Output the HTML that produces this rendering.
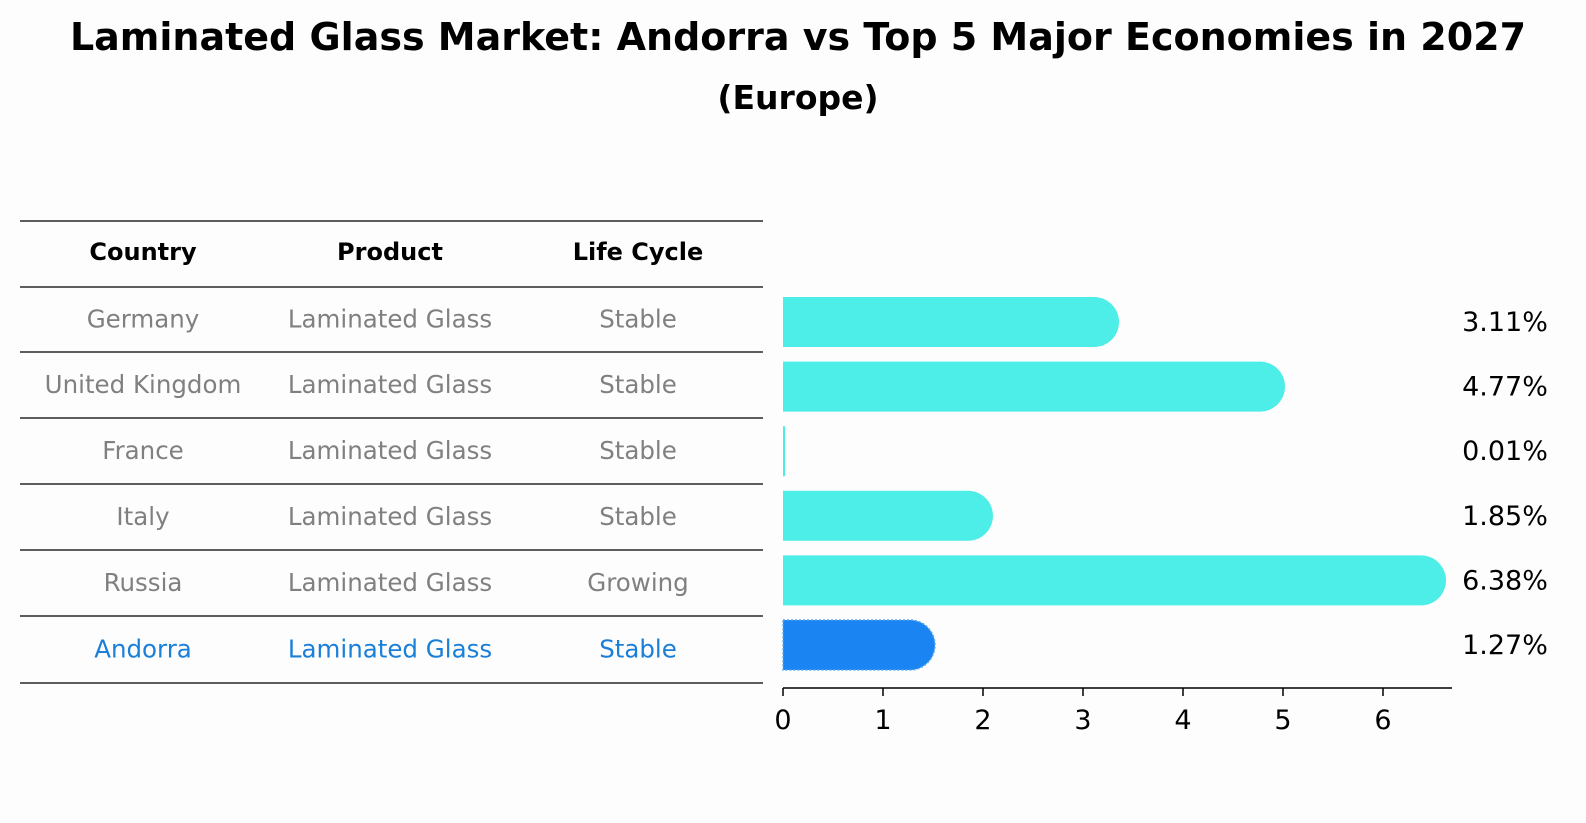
<!DOCTYPE html>
<html><head><meta charset="utf-8"><style>
html,body{margin:0;padding:0;overflow:hidden;width:1586px;height:823px;background:#fdfdfd;font-family:"Liberation Sans","DejaVu Sans",sans-serif;}
svg{display:block}
svg text{font-family:"DejaVu Sans","Liberation Sans",sans-serif;}
</style></head><body>
<svg id="c" width="1586" height="823" viewBox="0 0 1586 823" xmlns="http://www.w3.org/2000/svg">
<rect width="1586" height="823" fill="#fdfdfd"/>
<text x="798" y="50" text-anchor="middle" font-size="38" font-weight="bold">Laminated Glass Market: Andorra vs Top 5 Major Economies in 2027</text>
<text x="798" y="109" text-anchor="middle" font-size="33" font-weight="bold">(Europe)</text>
<g id="table"></g>
<g id="bars"></g>
</svg>
<script>
const countries=["Germany","United Kingdom","France","Italy","Russia","Andorra"];
const products=["Laminated Glass","Laminated Glass","Laminated Glass","Laminated Glass","Laminated Glass","Laminated Glass"];
const lifeCycles=["Stable","Stable","Stable","Stable","Growing","Stable"];
const values=[3.11,4.77,0.01,1.85,6.38,1.27];
const xTicks=[0,1,2,3,4,5,6];
const NS="http://www.w3.org/2000/svg";
function mk(tag,attrs,parent,text){const e=document.createElementNS(NS,tag);for(const k in attrs)e.setAttribute(k,attrs[k]);if(text!==undefined)e.textContent=text;parent.appendChild(e);return e;}
const x0=783,pxPer=100,xMax=6.69;
const xs=v=>x0+v*pxPer;
const rowY=i=>322+i*64.6;
const tbl=document.getElementById('table'),bars=document.getElementById('bars');
const cols=[143,390,638];
const lineYs=[221,287,352,418,484,550,616,683];
lineYs.forEach((y,i)=>{const l=mk('line',{x1:20,x2:763,y1:y,y2:y,stroke:'#000','stroke-width':1.2},tbl);

});
["Country","Product","Life Cycle"].forEach((h,j)=>{const t=mk('text',{x:cols[j],y:260,'text-anchor':'middle','font-size':24,'font-weight':'bold'},tbl,h);

});
countries.forEach((c,i)=>{const col=i===countries.length-1?'#1a7fd8':'#808080';
[c,products[i],lifeCycles[i]].forEach((s,j)=>{const t=mk('text',{x:cols[j],y:(lineYs[i+1]+lineYs[i+2])/2+8,'text-anchor':'middle','font-size':24.5,fill:col},tbl,s);

});});
values.forEach((v,i)=>{const y=rowY(i),h=50,w=xs(v)-x0,r=Math.min(25,w);const last=i===values.length-1;
const fill=last?'#1a85f2':'#4dede8';
const g=mk('g',{},bars);


const d=`M${x0},${y-h/2} H${x0+w} A${r},${h/2} 0 0 1 ${x0+w},${y+h/2} H${x0} Z`;
mk('path',{d:d,fill:fill,stroke:last?'#5aa8f0':'none','stroke-dasharray':last?'2,2':'','stroke-width':last?1.5:0},g);
if(w<3)mk('rect',{x:x0,y:y-h/2,width:2,height:h,fill:fill},g);
const t=mk('text',{x:1505,y:y+9,'text-anchor':'middle','font-size':27},bars,v.toFixed(2)+'%');

});
const ax=mk('line',{x1:x0,x2:xs(xMax),y1:688,y2:688,stroke:'#000','stroke-width':1.5},bars);


xTicks.forEach(t=>{const tk=mk('line',{x1:xs(t),x2:xs(t),y1:688,y2:696,stroke:'#000','stroke-width':1.5},bars);


const lb=mk('text',{x:xs(t),y:729,'text-anchor':'middle','font-size':27},bars,String(t));

});
</script>
</body></html>
